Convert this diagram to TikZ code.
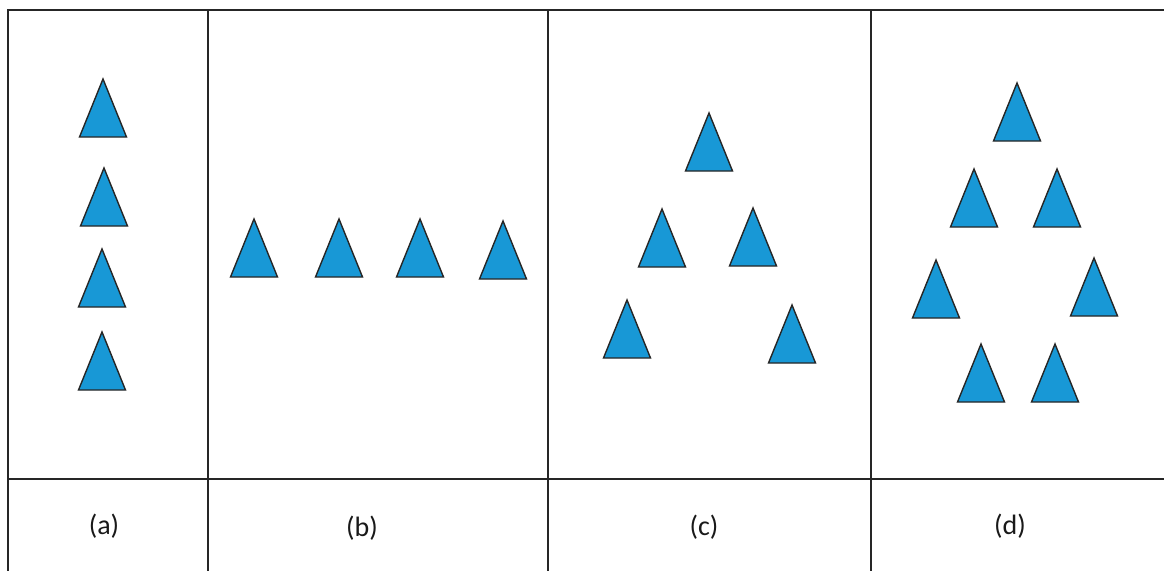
\documentclass[tikz,border=0pt]{standalone}
\usepackage{fontspec}
\setmainfont{Carlito}
\definecolor{triblue}{RGB}{24,152,214}
\begin{document}
\begin{tikzpicture}[x=1pt,y=-1pt,
  grid/.style={line width=1.8pt,draw=black!85},
  lbl/.style={font=\fontsize{28}{32}\selectfont,inner sep=0pt,text=black!90},
  tri/.pic={\draw[fill=triblue,draw=black!85,line width=1.4pt,line join=miter]
     (0,0) -- (23.5,58) -- (-23.5,58) -- cycle;}]
\useasboundingbox (0,0) rectangle (1164,571);
% table
\draw[grid] (1164,10) -- (8,10) -- (8,571);
\draw[grid] (8,479) -- (1164,479);
\draw[grid] (208,10) -- (208,571);
\draw[grid] (548,10) -- (548,571);
\draw[grid] (871,10) -- (871,571);
% (a)
\pic at (103,79) {tri};
\pic at (104,168) {tri};
\pic at (102,249) {tri};
\pic at (102,332) {tri};
% (b)
\pic at (254,219) {tri};
\pic at (339,219) {tri};
\pic at (420,219) {tri};
\pic at (503,221) {tri};
% (c)
\pic at (709,113) {tri};
\pic at (662,209) {tri};
\pic at (753,208) {tri};
\pic at (627,300) {tri};
\pic at (792,305) {tri};
% (d)
\pic at (1017,83) {tri};
\pic at (974,169) {tri};
\pic at (1057,169) {tri};
\pic at (936,260) {tri};
\pic at (1094,258) {tri};
\pic at (981,344) {tri};
\pic at (1055,344) {tri};
% labels
\node[lbl] (la) at (104,526) {(a)};
\node[lbl] (lb) at (362,528) {(b)};
\node[lbl] (lc) at (704,527) {(c)};
\node[lbl] (ld) at (1010,526) {(d)};
\end{tikzpicture}
\end{document}
